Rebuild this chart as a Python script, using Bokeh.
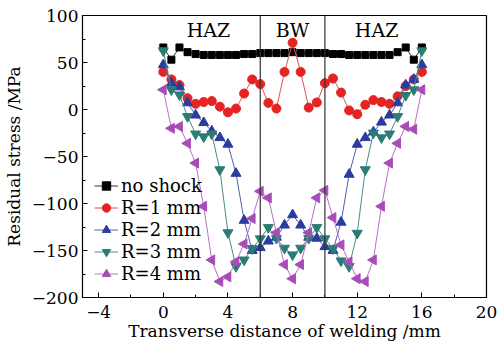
from bokeh.plotting import figure
from bokeh.models import Legend, LegendItem, Span, Label, FixedTicker
from bokeh.embed import file_html
from bokeh.resources import INLINE

x = [0, 0.5, 1, 1.5, 2, 2.5, 3, 3.5, 4, 4.5, 5, 5.5, 6, 6.5, 7, 7.5, 8,
     8.5, 9, 9.5, 10, 10.5, 11, 11.5, 12, 12.5, 13, 13.5, 14, 14.5, 15, 15.5, 16]
no_shock = [66, 53, 66, 61, 59, 58, 58, 58, 58, 58, 59, 59, 60, 60, 60, 60, 61,
            60, 60, 60, 60, 59, 59, 58, 58, 58, 58, 58, 58, 61, 66, 53, 66]
r1 = [40, 32, 26, 12, 6, 8, 9, 3, -3, 1, 17, 32, 27, 7, 1, 40, 71,
      40, 2, 7.5, 28, 33, 18, -1, -5, 5, 10, 8, 6, 14, 25, 32, 40]
r2 = [47.5, 28, 24, 7, -6, -14, -23, -30, -37, -68, -118, -150, -147, -140, -136, -123, -112,
      -123, -136, -137, -146, -150, -120, -69, -37, -30, -24, -13.5, -6, 7, 26, 32, 47.5]
r3 = [62.5, 21, 15.6, -7.4, -26, -29, -26, -64, -131, -167, -160, -148, -137.5, -125.5, -137, -147.5, -154.6,
      -147.5, -137, -125.5, -137.5, -148, -161, -167, -131.6, -64, -25, -30, -26, -7.4, 15, 21, 62.5]
r4 = [21, -20, -18, -36, -57, -103, -160, -183, -178, -162, -143, -116, -87, -94, -131, -165, -180,
      -165, -131, -94, -86, -115, -144, -162, -180, -183, -160, -103, -57, -36, -18, -21, 21]

labels = ["no shock", "R=1 mm", "R=2 mm", "R=3 mm", "R=4 mm"]
x_ticks = [-4, 0, 4, 8, 12, 16, 20]
y_ticks = [-200, -150, -100, -50, 0, 50, 100]
zone_bounds = [6, 10]
zone_names = ["HAZ", "BW", "HAZ"]
zone_centers = [2.8, 8, 13.2]

FONT = "DejaVu Serif"

p = figure(width=501, height=343, output_backend="svg", toolbar_location=None,
           x_range=(-5, 20), y_range=(-200, 100))
p.min_border_left = 10
p.min_border_right = 15
p.min_border_top = 15
p.min_border_bottom = 2
p.background_fill_color = "white"
p.border_fill_color = "white"
p.outline_line_color = "black"
p.outline_line_width = 1.2
p.grid.visible = False

p.xaxis.ticker = FixedTicker(ticks=x_ticks, minor_ticks=[-4, -2, 0, 2, 4, 6, 8, 10, 12, 14, 16, 18, 20])
p.yaxis.ticker = FixedTicker(ticks=y_ticks, minor_ticks=list(range(-200, 101, 25)))
p.xaxis.major_label_overrides = {t: (str(t).replace("-", "\u2212")) for t in x_ticks}
p.yaxis.major_label_overrides = {t: (str(t).replace("-", "\u2212")) for t in y_ticks}
for ax in (p.xaxis, p.yaxis):
    ax.major_tick_in = 5
    ax.major_tick_out = 0
    ax.minor_tick_in = 3
    ax.minor_tick_out = 0
    ax.axis_line_color = "black"
    ax.major_label_text_font = FONT
    ax.major_label_text_font_size = "17px"
    ax.major_label_text_color = "black"
    ax.axis_label_text_font = FONT
    ax.axis_label_text_font_size = "17px"
    ax.axis_label_text_font_style = "normal"
    ax.axis_label_text_color = "black"
p.xaxis.axis_label = "Transverse distance of welding /mm"
p.yaxis.axis_label = "Residual stress /MPa"
p.xaxis.major_label_standoff = 8
p.xaxis.axis_label_standoff = 0
p.yaxis.major_label_standoff = 4
p.yaxis.axis_label_standoff = 5

for b in zone_bounds:
    p.add_layout(Span(location=b, dimension="height", line_color="#333333", line_width=1.2))
for name, c in zip(zone_names, zone_centers):
    p.add_layout(Label(x=c, y=100, text=name, text_font=FONT, text_font_size="19px",
                       text_color="black", text_align="center", text_baseline="top", y_offset=-3))

series = [
    (no_shock, "black", "#333333", "square", 7),
    (r1, "#e52421", "#e05050", "circle", 9),
    (r2, "#2b3ca0", "#5060b0", "triangle", 10),
    (r3, "#2a7d74", "#4a8a84", "inverted_triangle", 10),
    (r4, "#a84cb8", "#b870c8", "triangle", 10),
]
items = []
for (ys, col, lcol, mk, sz), lab in zip(series, labels):
    ln = p.line(x, ys, line_color=lcol, line_width=1)
    angle = 1.5708 if lab == "R=4 mm" else 0
    sc = p.scatter(x, ys, marker=mk, size=sz, fill_color=col, line_color=col, angle=angle)
    items.append(LegendItem(label=lab, renderers=[ln, sc]))

leg = Legend(items=items, location=(10, 11), background_fill_alpha=0, border_line_alpha=0,
             label_text_font=FONT, label_text_font_size="18px", glyph_width=24,
             glyph_height=21, label_height=21, spacing=1, padding=2, margin=0,
             label_standoff=3, label_text_color="black")
p.add_layout(leg, "center")

open("out.html", "w").write(file_html(p, INLINE))
